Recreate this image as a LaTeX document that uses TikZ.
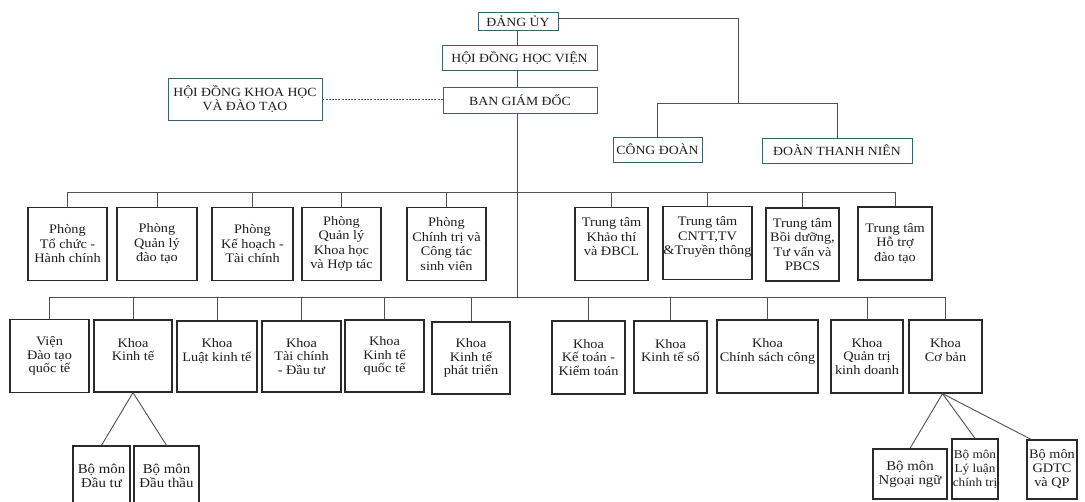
\documentclass[tikz,border=0pt]{standalone}
\usepackage{fontspec}
\setmainfont[FakeStretch=1.1]{Liberation Serif}
\definecolor{boxline}{HTML}{2A2A2A}
\definecolor{topline}{HTML}{3A6270}
\definecolor{linec}{HTML}{505050}
\definecolor{txt}{HTML}{1E1E1E}
\begin{document}
\begin{tikzpicture}[x=1pt,y=-1pt,
  box/.style={draw=boxline, line width=1.3pt, fill=white, align=center, inner sep=0pt, text=txt,
              font=\fontsize{13}{14.5}\selectfont},
  rowtwo/.style={box, font=\fontsize{13}{13.5}\selectfont},
  topbox/.style={box, draw=topline, line width=0.9pt, font=\fontsize{12.5}{13.5}\selectfont},
  smallbox/.style={box, font=\fontsize{13.5}{14}\selectfont},
  link/.style={draw=linec, line width=0.9pt},
  dashlink/.style={draw=linec, line width=0.8pt, dash pattern=on 2pt off 1.2pt}]
\clip (0,0) rectangle (1085,502);
\fill[white] (0,0) rectangle (1085,502);

% top level
\node[topbox, minimum width=80, minimum height=18] (dang) at (518,21) {ĐẢNG ỦY};
\node[topbox, minimum width=155, minimum height=25] (hdhv) at (519.5,57.5) {HỘI ĐỒNG HỌC VIỆN};
\node[topbox, minimum width=154, minimum height=26] (bgd) at (520,100) {BAN GIÁM ĐỐC};
\node[topbox, minimum width=154, minimum height=42] (hdkh) at (245,99) {HỘI ĐỒNG KHOA HỌC\\VÀ ĐÀO TẠO};
\node[topbox, minimum width=89, minimum height=25] (cd) at (657.5,149.5) {CÔNG ĐOÀN};
\node[topbox, minimum width=150, minimum height=25] (dtn) at (837,150.5) {ĐOÀN THANH NIÊN};

\coordinate (spine) at (517,0);
\coordinate (busone) at (517,192);
\coordinate (bustwo) at (517,297);
\coordinate (rtop) at (738,18);
\coordinate (rbus) at (738,103);

% row 1
\node[box, minimum width=79, minimum height=73] (p1) at (67.5,244) {Phòng\\Tổ chức -\\Hành chính};
\node[box, minimum width=80, minimum height=73] (p2) at (157,244) {Phòng\\Quản lý\\đào tạo};
\node[box, minimum width=81, minimum height=73] (p3) at (252.5,244) {Phòng\\Kế hoạch -\\Tài chính};
\node[box, minimum width=79, minimum height=73] (p4) at (341.5,244) {Phòng\\Quản lý\\Khoa học\\và Hợp tác};
\node[box, minimum width=79, minimum height=73] (p5) at (446.5,244) {Phòng\\Chính trị và\\Công tác\\sinh viên};
\node[box, minimum width=73, minimum height=73] (t1) at (611.5,244) {Trung tâm\\Khảo thí\\và ĐBCL\\\mbox{}};
\node[box, minimum width=89, minimum height=73] (t2) at (707.5,243) {Trung tâm\\CNTT,TV\\\&Truyền thông\\\mbox{}};
\node[box, minimum width=73, minimum height=73] (t3) at (802.5,244.5) {Trung tâm\\Bồi dưỡng,\\Tư vấn và\\PBCS};
\node[box, minimum width=74, minimum height=73] (t4) at (895,243.5) {Trung tâm\\Hỗ trợ\\đào tạo};

% row 2
\node[rowtwo, minimum width=79, minimum height=73] (k1) at (49.5,356) {Viện\\Đào tạo\\quốc tế};
\node[rowtwo, minimum width=78, minimum height=72] (k2) at (133,356) {Khoa\\Kinh tế\\\mbox{}};
\node[rowtwo, minimum width=80, minimum height=71] (k3) at (217,356.5) {Khoa\\Luật kinh tế\\\mbox{}};
\node[rowtwo, minimum width=79, minimum height=71] (k4) at (301.5,356.5) {Khoa\\Tài chính\\- Đầu tư};
\node[rowtwo, minimum width=79, minimum height=72] (k5) at (384.5,356) {Khoa\\Kinh tế\\quốc tế};
\node[rowtwo, minimum width=78, minimum height=72] (k6) at (471,358) {Khoa\\Kinh tế\\phát triển};
\node[rowtwo, minimum width=73, minimum height=73] (k7) at (588.5,357.5) {Khoa\\Kế toán -\\Kiểm toán};
\node[rowtwo, minimum width=73, minimum height=72] (k8) at (670.5,357) {Khoa\\Kinh tế số\\\mbox{}};
\node[rowtwo, minimum width=101, minimum height=73] (k9) at (767.5,356.5) {Khoa\\Chính sách công\\\mbox{}};
\node[rowtwo, minimum width=72, minimum height=73] (k10) at (867,356.5) {Khoa\\Quản trị\\kinh doanh};
\node[rowtwo, minimum width=73, minimum height=73] (k11) at (945.5,356.5) {Khoa\\Cơ bản\\\mbox{}};

% bottom
\node[smallbox, minimum width=57, minimum height=60] (b1) at (101.5,476) {Bộ môn\\Đầu tư};
\node[smallbox, minimum width=65, minimum height=60] (b2) at (166.5,476) {Bộ môn\\Đầu thầu};
\node[smallbox, minimum width=74, minimum height=50] (b3) at (910,474) {Bộ môn\\Ngoại ngữ};
\node[smallbox, minimum width=46, minimum height=60, font=\fontsize{12}{14}\selectfont] (b4) at (975,469) {Bộ môn\\Lý luận\\chính trị};
\node[smallbox, minimum width=50, minimum height=59, font=\fontsize{13}{14}\selectfont] (b5) at (1052,469.5) {Bộ môn\\GDTC\\và QP};

% connectors
\draw[link] (dang.south -| spine) -- (hdhv.north -| spine);
\draw[link] (hdhv.south -| spine) -- (bgd.north -| spine);
\draw[link] (bgd.south -| spine) -- (bustwo);
\draw[dashlink] (hdkh.east) -- (hdkh.east -| bgd.west);
\draw[link] (dang.east |- rtop) -- (rtop) -- (rbus);
\draw[link] (cd.north |- rbus) -- (dtn.north |- rbus);
\draw[link] (cd.north |- rbus) -- (cd.north);
\draw[link] (dtn.north |- rbus) -- (dtn.north);

\draw[link] (p1.north |- busone) -- (t4.north |- busone);
\foreach \n in {p1,p2,p3,p4,p5,t1,t2,t3,t4}
  \draw[link] (\n.north |- busone) -- (\n.north);

\draw[link] (k1.north |- bustwo) -- (k11.north |- bustwo);
\foreach \n in {k1,k2,k3,k4,k5,k6,k7,k8,k9,k10,k11}
  \draw[link] (\n.north |- bustwo) -- (\n.north);

\draw[link] (b1.north) -- (k2.south) -- (b2.north);
\draw[link] (b3.north) -- ([xshift=-3pt]k11.south) -- (b4.north);
\draw[link] ([xshift=-3pt]k11.south) -- ([xshift=-21pt]b5.north);
\end{tikzpicture}
\end{document}
